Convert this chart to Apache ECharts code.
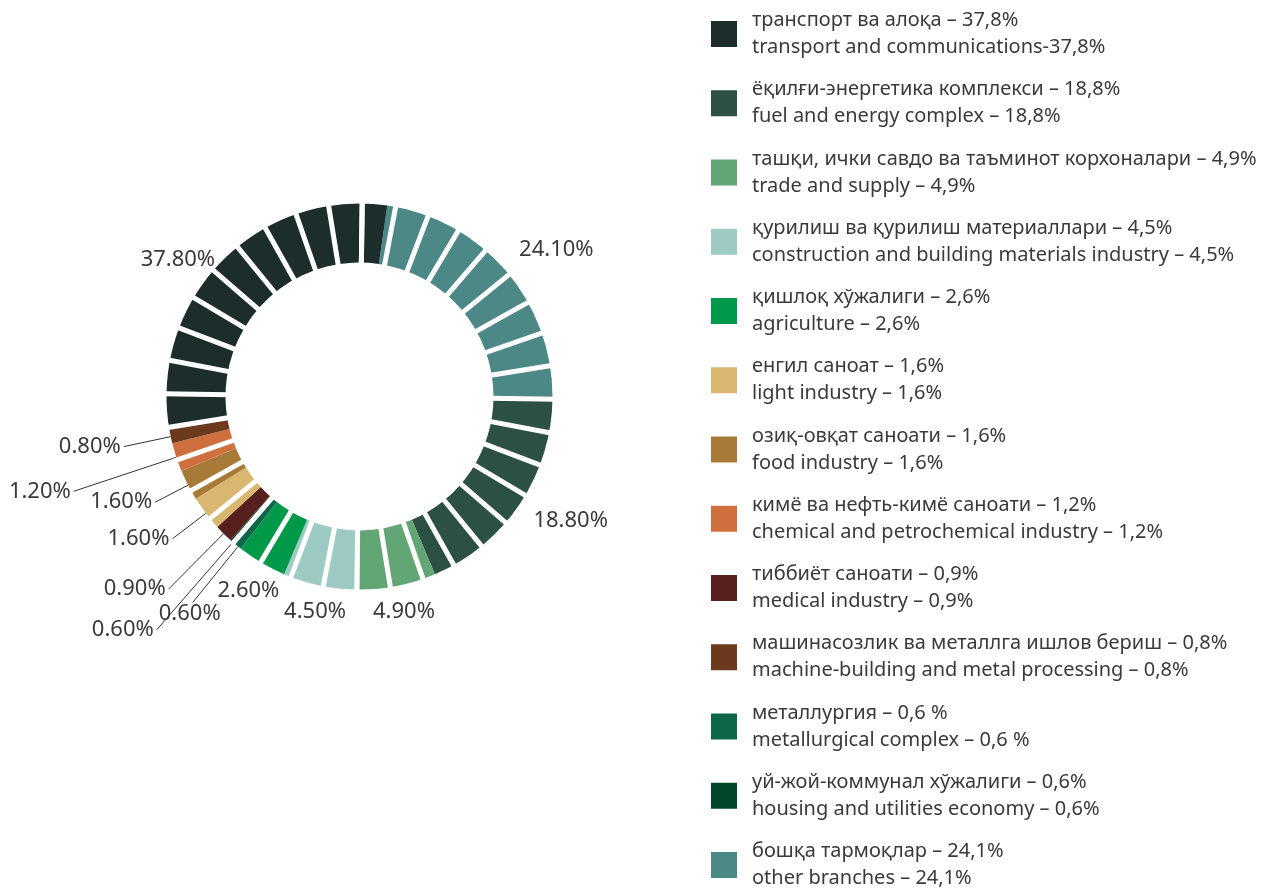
<!DOCTYPE html>
<html>
<head>
<meta charset="utf-8">
<script src="https://cdn.jsdelivr.net/npm/echarts@6/dist/echarts.min.js"></script>
<style>
  html, body { margin: 0; padding: 0; background: #fff; }
  #chart { width: 1267px; height: 890px; }
</style>
</head>
<body>
<div id="chart"></div>
<script>
// legend order
const legendUz = [
  'транспорт ва алоқа – 37,8%',
  'ёқилғи-энергетика комплекси – 18,8%',
  'ташқи, ички савдо ва таъминот корхоналари – 4,9%',
  'қурилиш ва қурилиш материаллари – 4,5%',
  'қишлоқ хўжалиги – 2,6%',
  'енгил саноат – 1,6%',
  'озиқ-овқат саноати – 1,6%',
  'кимё ва нефть-кимё саноати – 1,2%',
  'тиббиёт саноати – 0,9%',
  'машинасозлик ва металлга ишлов бериш – 0,8%',
  'металлургия – 0,6 %',
  'уй-жой-коммунал хўжалиги – 0,6%',
  'бошқа тармоқлар – 24,1%'
]
const legendEn = [
  'transport and communications-37,8%',
  'fuel and energy complex – 18,8%',
  'trade and supply – 4,9%',
  'construction and building materials industry – 4,5%',
  'agriculture – 2,6%',
  'light industry – 1,6%',
  'food industry – 1,6%',
  'chemical and petrochemical industry – 1,2%',
  'medical industry – 0,9%',
  'machine-building and metal processing – 0,8%',
  'metallurgical complex – 0,6 %',
  'housing and utilities economy – 0,6%',
  'other branches – 24,1%'
]
// share in %, printed on the ring
const shares = [37.8, 18.8, 4.9, 4.5, 2.6, 1.6, 1.6, 1.2, 0.9, 0.8, 0.6, 0.6, 24.1]
// angular size of each slice as drawn in the picture (degrees)
const arcDeg = [108.3, 67, 23, 23, 15, 10.5, 9.3, 8.7, 5.5, 4, 2, 2, 81.7]
// order of the slices round the ring, clockwise from "other branches"
const ringOrder = [12, 1, 2, 3, 4, 10, 11, 8, 5, 6, 7, 9, 0]

const colors = ['#1c2d2c', '#2d5045', '#62a676', '#9ecac4', '#00994a', '#d9b770',
  '#a87a38', '#cf6f3e', '#57201e', '#6b391c', '#0b6748', '#03472a', '#4b8886']
// leader line length per slice
const leader = [4, 12, 15, 15, 20, 42, 37, 108, 78, 48, 72, 116, 14]
const withLine = [false, false, false, false, false, true, true, true, true, true, true, true, false]

const FONT = '"Noto Sans", sans-serif'
const CX = 359.5, CY = 396.5

const chart = echarts.init(document.getElementById('chart'))

const pieData = ringOrder.map((i) => {
  return {
    name: legendUz[i],
    value: arcDeg[i],
    share: shares[i],
    itemStyle: { color: colors[i] },
    labelLine: { show: withLine[i], length: leader[i], length2: 0 },
  }
})

chart.setOption({
  animation: false,
  legend: {
    orient: 'vertical',
    left: 711,
    top: 2.5,
    height: 920,
    padding: 0,
    icon: 'rect',
    itemWidth: 26,
    itemHeight: 26,
    itemGap: 6.25,
    selectedMode: false,
    data: legendUz,
    formatter: (name) => {
      const i = legendUz.indexOf(name)
      return legendUz[i] + '\n' + legendEn[i]
    },
    textStyle: {
      fontFamily: FONT,
      fontSize: 20,
      lineHeight: 27,
      color: '#3a3a3a',
      padding: [9, 0, 0, 10],
    },
  },
  series: [
    {
      type: 'pie',
      center: [CX, CY],
      radius: [134, 193],
      startAngle: 90 - 8.3,
      clockwise: true,
      silent: true,
      avoidLabelOverlap: false,
      data: pieData,
      label: {
        show: true,
        position: 'outside',
        distanceToLabelLine: 3,
        fontFamily: FONT,
        fontSize: 22,
        color: '#3a3a3a',
        formatter: (p) => p.data.share.toFixed(2) + '%',
      },
      labelLine: {
        length2: 0,
        lineStyle: { color: '#333', width: 1 },
      },
      labelLayout: (p) => {
        const pt = p.labelLinePoints[p.labelLinePoints.length - 1]
        let a = Math.atan2(pt[0] - CX, CY - pt[1]) * 180 / Math.PI
        if (a < 0) a += 360
        // labels under the ring sit centred below their anchor
        if (a > 150 && a < 220) {
          return { align: 'center', verticalAlign: 'top' }
        }
        // labels on the right lean away from the horizontal axis
        if (a < 150) {
          return { verticalAlign: pt[1] < CY ? 'bottom' : 'top' }
        }
        return {}
      },
    },
    {
      // white radial cuts that split the ring into 36 blocks
      type: 'gauge',
      center: [CX, CY],
      radius: 196,
      startAngle: 89.2,
      endAngle: -270.8,
      splitNumber: 36,
      silent: true,
      z: 5,
      axisLine: { show: false, lineStyle: { width: 0 } },
      splitLine: { show: true, distance: 0, length: 66, lineStyle: { color: '#fff', width: 5 } },
      axisTick: { show: false },
      axisLabel: { show: false },
      pointer: { show: false },
      anchor: { show: false },
      title: { show: false },
      detail: { show: false },
      data: [],
    },
  ],
})
</script>
</body>
</html>
